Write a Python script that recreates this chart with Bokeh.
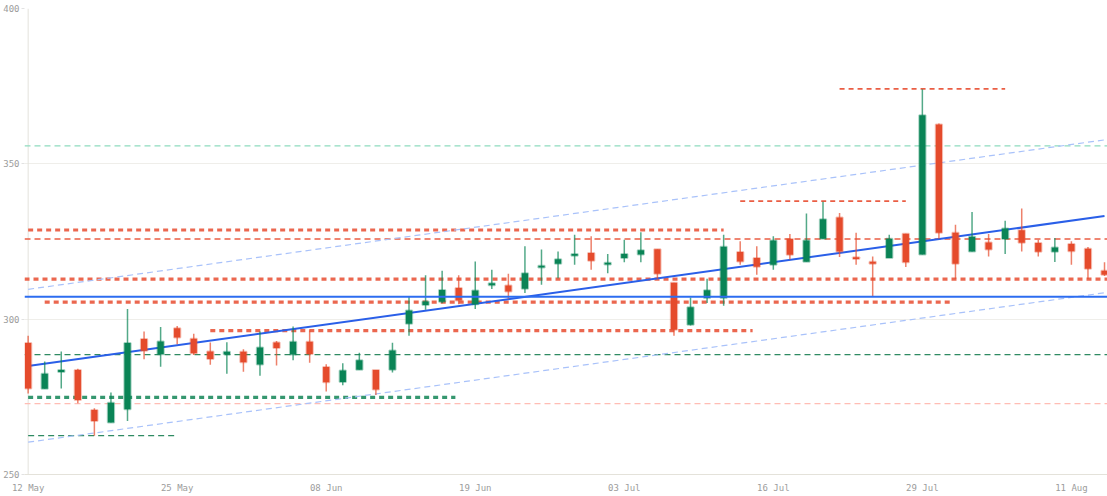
from bokeh.plotting import figure
from bokeh.models import Range1d, FixedTicker, Span, ColumnDataSource
from bokeh.embed import file_html
from bokeh.resources import INLINE

# ---- candle data (one per session) ----
opens = [292.3, 277.6, 283.0, 283.6, 270.8, 266.7, 271.0, 293.6, 288.7, 297.1,
         293.7, 289.6, 288.7, 289.5, 285.4, 292.5, 288.6, 292.7, 284.6, 279.8,
         283.7, 283.6, 283.7, 298.5, 304.6, 305.6, 310.0, 304.8, 310.9, 310.8,
         309.8, 316.6, 317.8, 320.4, 321.3, 317.6, 319.7, 320.8, 322.5, 311.7,
         298.2, 306.8, 306.8, 321.6, 319.7, 317.5, 325.8, 318.5, 325.9, 332.7,
         319.9, 318.5, 319.7, 327.5, 320.8, 362.7, 327.8, 321.8, 324.7, 325.8,
         328.6, 324.5, 321.7, 324.2, 322.7, 315.6]
highs = [294.7, 286.4, 289.6, 284.0, 271.3, 276.4, 303.3, 296.0, 297.5, 297.8,
         295.3, 292.5, 292.6, 290.3, 296.0, 293.0, 297.6, 296.4, 285.5, 285.8,
         289.2, 283.6, 292.4, 307.3, 314.1, 315.6, 314.1, 318.6, 315.9, 314.6,
         323.5, 322.4, 321.8, 327.2, 326.7, 321.0, 325.6, 328.0, 322.5, 311.7,
         307.0, 313.0, 327.2, 325.1, 323.5, 326.7, 327.4, 334.0, 337.8, 334.2,
         327.8, 320.2, 327.2, 327.5, 374.0, 363.0, 330.4, 334.5, 327.4, 331.7,
         335.6, 325.6, 326.1, 325.1, 323.2, 318.3]
lows = [276.1, 277.6, 277.7, 272.9, 262.5, 266.7, 267.2, 287.1, 284.7, 291.9,
        288.5, 285.3, 282.4, 283.1, 281.8, 285.1, 286.8, 286.0, 276.7, 278.7,
        283.7, 275.6, 282.8, 294.7, 303.0, 305.1, 304.8, 303.3, 309.7, 306.6,
        308.4, 311.1, 313.2, 317.5, 315.9, 314.8, 318.3, 318.3, 313.0, 294.7,
        298.0, 305.2, 304.3, 317.5, 314.3, 315.9, 319.2, 318.5, 325.9, 320.0,
        317.5, 307.3, 319.7, 316.8, 320.8, 325.9, 313.0, 321.8, 320.2, 321.0,
        321.8, 320.2, 318.4, 317.5, 312.9, 313.9]
closes = [277.7, 282.4, 283.6, 274.0, 267.2, 273.1, 292.3, 289.8, 292.8, 294.1,
          289.0, 287.2, 289.5, 286.1, 290.9, 290.7, 292.7, 288.8, 279.7, 283.5,
          286.8, 277.4, 289.9, 302.8, 305.7, 309.4, 306.0, 309.2, 311.6, 308.9,
          314.8, 317.2, 319.3, 321.0, 318.8, 318.2, 321.0, 322.2, 314.6, 296.6,
          303.8, 309.3, 323.3, 318.6, 316.9, 325.3, 320.7, 325.3, 332.2, 321.8,
          319.4, 317.8, 325.9, 318.3, 365.6, 327.8, 317.8, 326.5, 322.4, 329.2,
          324.6, 321.7, 323.1, 321.9, 316.2, 314.3]

tick_idx = [0, 9, 18, 27, 36, 45, 54, 63]
tick_labels = ["12 May", "25 May", "08 Jun", "19 Jun", "03 Jul", "16 Jul", "29 Jul", "11 Aug"]
y_ticks = [250, 300, 350, 400]

# ---- full-width levels ----
teal_level = 355.8
red_thin_level = 325.8
red_thick_full_level = 312.9
blue_level = 307.2
green_thin_level = 288.6
pink_level = 272.8

# ---- partial levels (value, from index, to index) ----
red_thick_levels = [328.7, 305.5, 296.3]
red_thick_from = [0, 1, 11]
red_thick_to = [42, 55.8, 43.75]
green_thick_levels = [274.8]
green_thick_from = [0]
green_thick_to = [25.8]
green_thin_levels = [262.5]
green_thin_from = [0]
green_thin_to = [9]
red_dash_levels = [374.1, 338.0]
red_dash_from = [49, 43]
red_dash_to = [59, 53]

# ---- trend channel ----
trend_idx = [0, 65]
trend_mid = [284.9, 333.2]
trend_upper = [309.6, 357.7]
trend_lower = [260.4, 308.5]

RED = "#e54b2c"
GREEN = "#0a8456"

idx = list(range(len(opens)))
colors = [GREEN if c >= o else RED for o, c in zip(opens, closes)]
tops = [max(o, c) for o, c in zip(opens, closes)]
bottoms = [min(o, c) for o, c in zip(opens, closes)]
src = ColumnDataSource(dict(x=idx, o=opens, h=highs, l=lows, c=closes,
                            color=colors, top=tops, bottom=bottoms))

p = figure(width=1107, height=496, output_backend="svg", toolbar_location=None,
           x_range=Range1d(-0.22, 65.18), y_range=Range1d(250, 400),
           min_border_top=8, min_border_right=0, min_border_left=23, min_border_bottom=22)
p.outline_line_color = None
p.background_fill_color = "white"
p.border_fill_color = "white"

p.xgrid.grid_line_color = None
p.ygrid.grid_line_color = "#efeeea"
p.ygrid.ticker = FixedTicker(ticks=y_ticks)

p.yaxis.ticker = FixedTicker(ticks=y_ticks)
p.yaxis.axis_line_color = None
p.yaxis.major_tick_line_color = "#e2e2e2"
p.yaxis.major_tick_out = 3
p.yaxis.major_tick_in = 0
p.yaxis.minor_tick_line_color = None
p.yaxis.major_label_standoff = 2

p.xaxis.ticker = FixedTicker(ticks=tick_idx)
p.xaxis.major_label_overrides = {i: lab for i, lab in zip(tick_idx, tick_labels)}
p.xaxis.axis_line_color = "#e4e2da"
p.xaxis.major_tick_line_color = None
p.xaxis.minor_tick_line_color = None
p.xaxis.major_label_standoff = 2

for ax in (p.xaxis, p.yaxis):
    ax.major_label_text_font = "DejaVu Sans Mono"
    ax.major_label_text_font_size = "9px"
    ax.major_label_text_color = "#9c9c9c"

# vertical axis line at first session
p.add_layout(Span(location=0, dimension="height", line_color="#e4e2dc", line_width=1, level="underlay"))

# full-width levels
p.add_layout(Span(location=teal_level, dimension="width", line_color="#8fdcbf",
                  line_width=1.3, line_dash="6 4", level="underlay"))
p.add_layout(Span(location=red_thin_level, dimension="width", line_color="#ea5e44",
                  line_width=1.3, line_dash="6 4", level="underlay"))
p.add_layout(Span(location=red_thick_full_level, dimension="width", line_color="#e9573c",
                  line_alpha=0.9, line_width=3.2, line_dash="5 4", level="underlay"))
p.add_layout(Span(location=green_thin_level, dimension="width", line_color="#2f8a62",
                  line_width=1.1, line_dash="6 4", level="underlay"))
p.add_layout(Span(location=pink_level, dimension="width", line_color="#ffbdb4",
                  line_width=1.3, line_dash="6 4", level="underlay"))

# partial levels
p.segment(red_thick_from, red_thick_levels, red_thick_to, red_thick_levels,
          line_color="#e9573c", line_alpha=0.9, line_width=3.2, line_dash="5 4")
p.segment(green_thick_from, green_thick_levels, green_thick_to, green_thick_levels,
          line_color="#1f8c5f", line_alpha=0.9, line_width=3.2, line_dash="5 4")
p.segment(green_thin_from, green_thin_levels, green_thin_to, green_thin_levels,
          line_color="#2f8a62", line_width=1.3, line_dash="6 4")
p.segment(red_dash_from, red_dash_levels, red_dash_to, red_dash_levels,
          line_color="#ea5e44", line_width=1.8, line_dash="5 4")

# trend channel
p.line(trend_idx, trend_upper, line_color="#a9c2fa", line_width=1.2, line_dash="6 4")
p.line(trend_idx, trend_lower, line_color="#a9c2fa", line_width=1.2, line_dash="6 4")

# blue horizontal level and main trend
p.add_layout(Span(location=blue_level, dimension="width", line_color="#2c6df0",
                  line_width=2, level="glyph"))
p.line(trend_idx, trend_mid, line_color="#2a5fe8", line_width=2)

# candles
p.segment(x0="x", y0="h", x1="x", y1="l", source=src, line_color="color",
          line_alpha=0.7, line_width=1.5)
p.vbar(x="x", width=0.38, top="top", bottom="bottom", source=src,
       fill_color="color", line_color="color", line_alpha=0.35, line_width=2)

open("out.html", "w").write(file_html(p, INLINE))
